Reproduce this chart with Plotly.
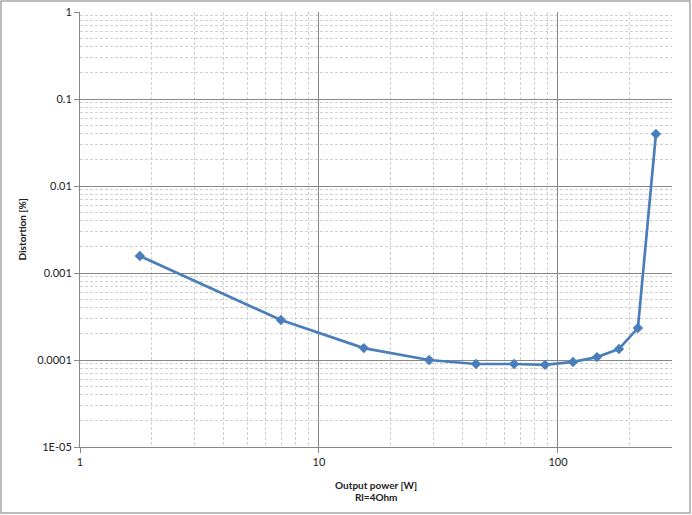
import plotly.graph_objects as go
import math

power_w = [1.78, 6.93, 15.4, 28.9, 45.4, 65.5, 88.3, 115.6, 145.6, 180, 216, 257]
distortion_pct = [0.00157, 0.000288, 0.000137, 0.0001, 0.000090, 0.000090, 0.000088, 0.000095, 0.000108, 0.000134, 0.000233, 0.0396]

x_tick_vals = [1, 10, 100]
x_tick_text = ["1", "10", "100"]
y_tick_vals = [1, 0.1, 0.01, 0.001, 0.0001, 0.00001]
y_tick_text = ["1", "0.1", "0.01", "0.001", "0.0001", "1E-05"]
x_minor_vals = [m * d for d in (1, 10, 100) for m in range(2, 10) if m * d <= 300]
y_minor_vals = [m * d for d in (1e-5, 1e-4, 1e-3, 1e-2, 1e-1) for m in range(2, 10)]

FONT = "Lato, 'Open Sans', sans-serif"
MAJOR = "#878787"
MINOR = "#d0d0d0"

fig = go.Figure()
fig.add_trace(go.Scatter(
    x=power_w, y=distortion_pct, mode="lines+markers",
    line=dict(color="#4a7ebb", width=2.7),
    marker=dict(symbol="diamond", size=8, color="#4a7ebb"),
    showlegend=False, hoverinfo="x+y",
))

axis_common = dict(
    showgrid=True, gridcolor=MAJOR, gridwidth=1,
    showline=True, linecolor=MAJOR, linewidth=1,
    ticks="outside", ticklen=5, tickcolor=MAJOR,
    tickfont=dict(family=FONT, size=11, color="#222"),
    zeroline=False, automargin=False, layer="below traces",
)

fig.update_layout(
    width=692, height=515,
    margin=dict(l=80, r=20, t=12, b=68),
    paper_bgcolor="white", plot_bgcolor="white",
    font=dict(family=FONT, size=11, color="#222"),
    xaxis=dict(
        type="log", range=[0, math.log10(300)],
        tickvals=x_tick_vals, ticktext=x_tick_text,
        minor=dict(tickmode="array", tickvals=x_minor_vals, showgrid=True, gridcolor=MINOR,
                   griddash="3px,2px", gridwidth=1, ticks=""),
        **axis_common,
    ),
    yaxis=dict(
        type="log", range=[-5, 0],
        tickvals=y_tick_vals, ticktext=y_tick_text,
        minor=dict(tickmode="array", tickvals=y_minor_vals, showgrid=True, gridcolor=MINOR,
                   griddash="3px,2px", gridwidth=1, ticks=""),
        **axis_common,
    ),
    annotations=[
        dict(text="<b>Output power [W]</b>", xref="paper", yref="paper", x=0.5, y=-0.069,
             yanchor="top", showarrow=False, font=dict(family=FONT, size=10, color="#222")),
        dict(text="<b>Rl=4Ohm</b>", xref="paper", yref="paper", x=0.5, y=-0.096,
             yanchor="top", showarrow=False, font=dict(family=FONT, size=10, color="#222")),
        dict(text="<b>Distortion [%]</b>", xref="paper", yref="paper", x=-0.098, y=0.5,
             textangle=-90, showarrow=False, xanchor="center", yanchor="middle",
             font=dict(family=FONT, size=10, color="#222")),
    ],
    shapes=[
        dict(type="rect", xref="paper", yref="paper",
             x0=(1 - 80) / 592, x1=(690 - 80) / 592,
             y0=1 - (513 - 12) / 435, y1=1 - (1 - 12) / 435,
             line=dict(color="#a6a6a6", width=1.5), layer="below"),
    ],
)

fig.write_html("out.html", config={"displayModeBar": False},
               post_script="document.body.style.margin='0';document.body.style.overflow='hidden';")
